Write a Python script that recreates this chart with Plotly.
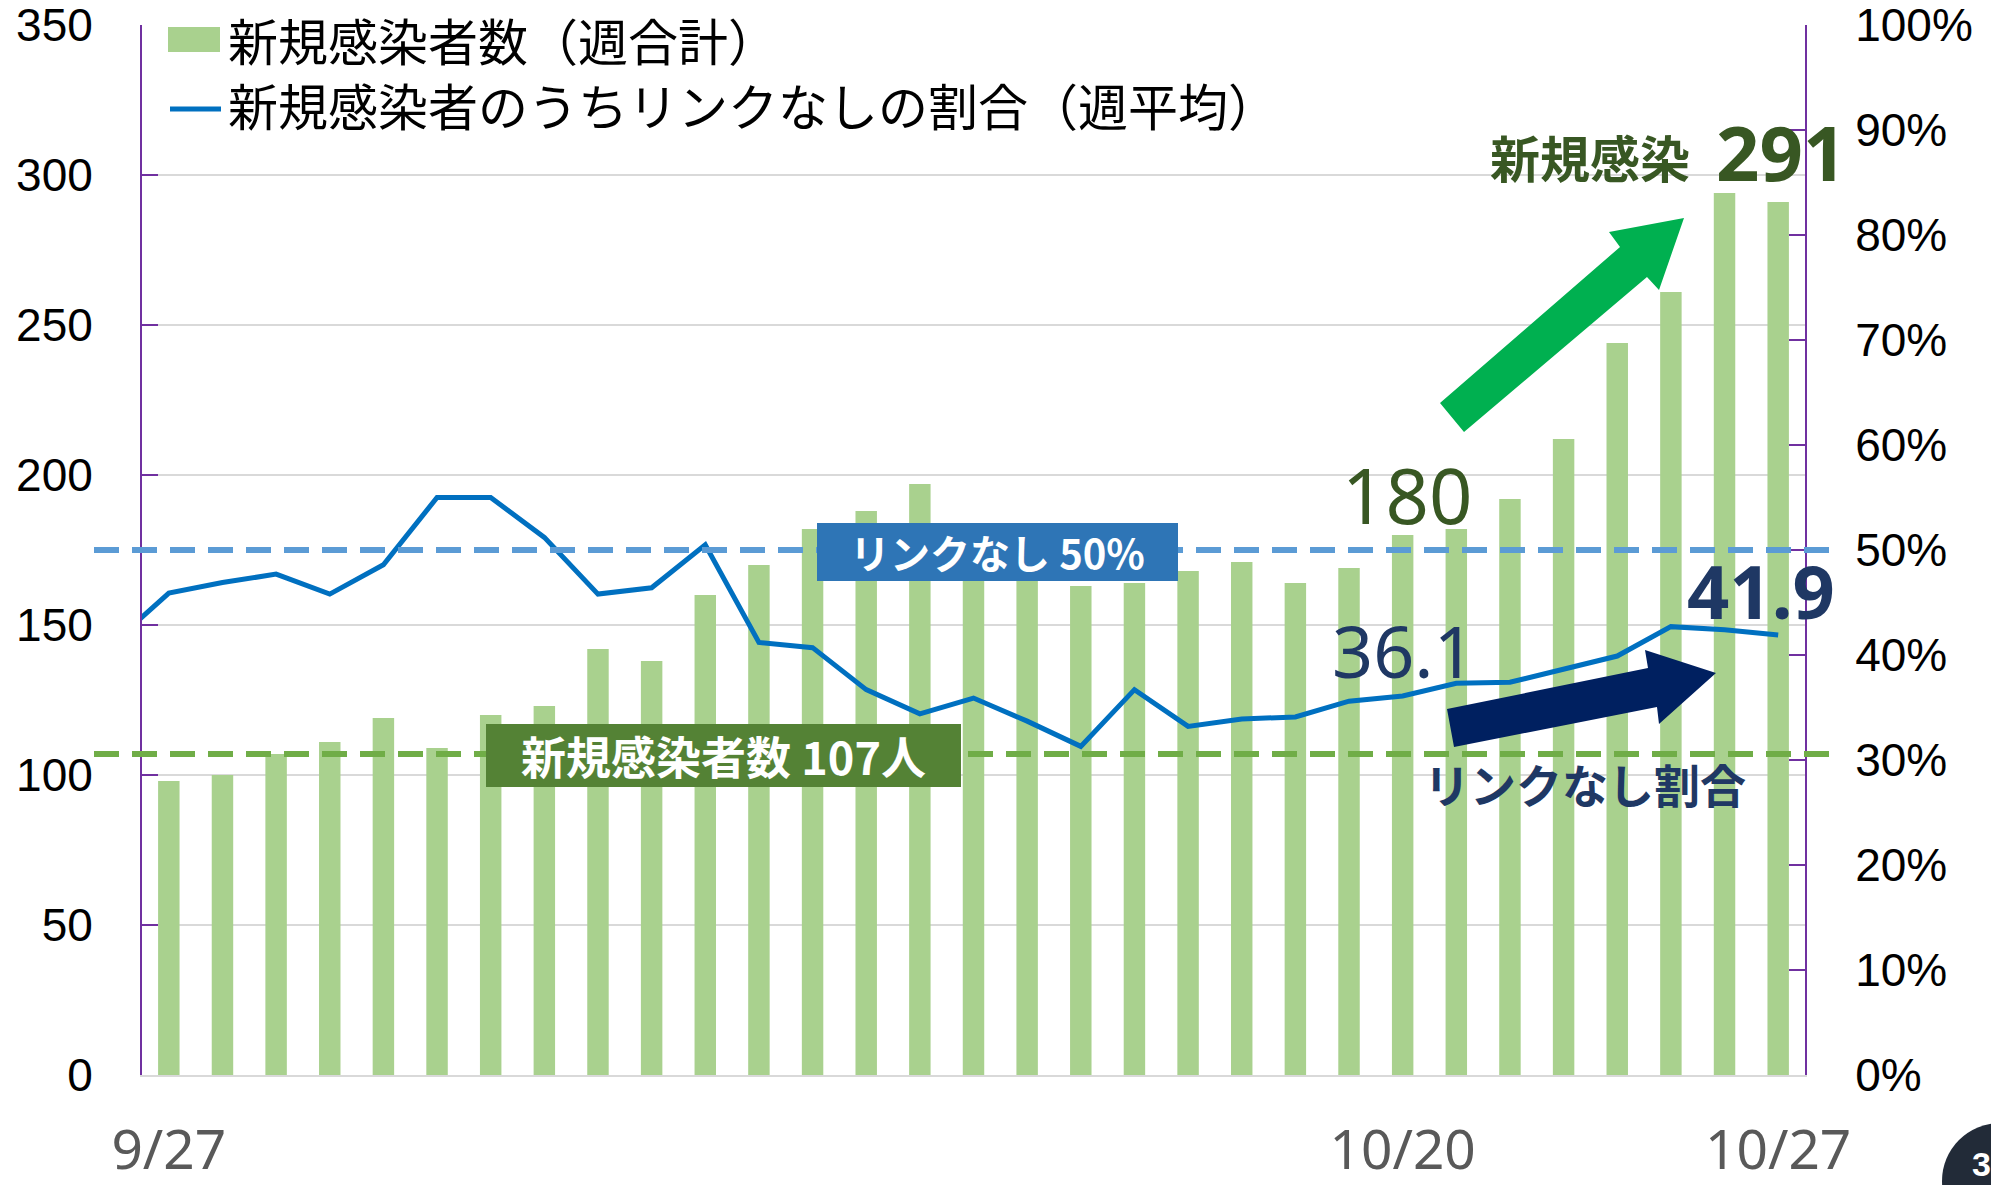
import plotly.graph_objects as go

# ---------------- data ----------------
dates = ["9/27", "9/28", "9/29", "9/30", "10/1", "10/2", "10/3", "10/4", "10/5", "10/6",
         "10/7", "10/8", "10/9", "10/10", "10/11", "10/12", "10/13", "10/14", "10/15", "10/16",
         "10/17", "10/18", "10/19", "10/20", "10/21", "10/22", "10/23", "10/24", "10/25", "10/26",
         "10/27"]
new_cases_weekly = [98, 100, 107, 111, 119, 109, 120, 123, 142, 138,
                    160, 170, 182, 188, 197, 178, 172, 163, 164, 168,
                    171, 164, 169, 180, 182, 192, 212, 244, 261, 294,
                    291]
unlinked_pct = [45.9, 46.9, 47.7, 45.8, 48.6, 55.0, 55.0, 51.2, 45.8, 46.4,
                50.5, 41.2, 40.7, 36.7, 34.4, 35.9, 33.7, 31.3, 36.7, 33.2,
                33.9, 34.1, 35.6, 36.1, 37.3, 37.4, 38.7, 39.9, 42.7, 42.4,
                41.9]
unlinked_prev_day = 41.3          # 9/26, just left of the axis
shown_ticks = ["9/27", "10/20", "10/27"]
baseline_cases = 107
baseline_pct = 50

legend_bar = "新規感染者数（週合計）"
legend_line = "新規感染者のうちリンクなしの割合（週平均）"

# ---------------- layout geometry ----------------
W, H = 1991, 1185
L, R, T, B = 142, 186, 25, 110
PW, PH = W - L - R, H - T - B


def pp(x, y):
    """pixel -> paper coordinates"""
    return (x - L) / PW, (H - B - y) / PH


def path(points):
    s = ""
    for i, (x, y) in enumerate(points):
        a, b = pp(x, y)
        s += ("M" if i == 0 else "L") + f"{a:.5f},{b:.5f} "
    return s + "Z"


idx = list(range(len(dates)))
CJK = "Noto Sans CJK JP"
NUM = "Noto Sans"
TICK = "Liberation Sans"
PURPLE = "#7030A0"
GRID = "#D9D9D9"
DKGREEN = "#385723"
NAVY = "#1F3864"

fig = go.Figure()
fig.add_trace(go.Bar(x=idx, y=new_cases_weekly, width=0.4,
                     marker=dict(color="#A9D18E", line=dict(width=0)),
                     name=legend_bar, showlegend=False))
fig.add_trace(go.Scatter(x=[-1] + idx, y=[unlinked_prev_day] + unlinked_pct,
                         mode="lines", yaxis="y2",
                         line=dict(color="#0070C0", width=5),
                         name=legend_line, showlegend=False))

shapes = []
# dashed reference lines
x0, _ = pp(94, 0)
x1, _ = pp(1832, 0)
shapes.append(dict(type="line", xref="paper", yref="y2", x0=x0, x1=x1,
                   y0=baseline_pct, y1=baseline_pct, layer="above",
                   line=dict(color="#5B9BD5", width=6, dash="25px,13px")))
shapes.append(dict(type="line", xref="paper", yref="y", x0=x0, x1=x1,
                   y0=baseline_cases, y1=baseline_cases, layer="above",
                   line=dict(color="#70AD47", width=6, dash="25px,13px")))
# green arrow
shapes.append(dict(type="path", xref="paper", yref="paper", layer="above",
                   path=path([(1440, 403), (1620, 247), (1609, 232), (1684, 218),
                              (1659, 290), (1647, 277), (1464, 432)]),
                   fillcolor="#00B050", line=dict(width=0)))
# navy arrow
shapes.append(dict(type="path", xref="paper", yref="paper", layer="above",
                   path=path([(1447, 709), (1648, 668), (1645, 650), (1716, 673),
                              (1659, 724), (1657, 707), (1454, 747)]),
                   fillcolor="#002060", line=dict(width=0)))
# custom legend
a0, b0 = pp(168, 52)
a1, b1 = pp(220, 27)
shapes.append(dict(type="rect", xref="paper", yref="paper", x0=a0, x1=a1, y0=b0, y1=b1,
                   fillcolor="#A9D18E", line=dict(width=0), layer="above"))
a0, b0 = pp(170, 109)
a1, _ = pp(221, 109)
shapes.append(dict(type="line", xref="paper", yref="paper", x0=a0, x1=a1, y0=b0, y1=b0,
                   line=dict(color="#0070C0", width=5), layer="above"))
# page-number badge (cut off at corner)
c0, d0 = pp(1942, 1239)
c1, d1 = pp(2058, 1123)
shapes.append(dict(type="circle", xref="paper", yref="paper", x0=c0, x1=c1, y0=d0, y1=d1,
                   fillcolor="#222B38", line=dict(width=0), layer="above"))

ann = []


def add_text(text, x, y, size, color, xanchor="center", bold=False, family=CJK, **kw):
    a, b = pp(x, y)
    t = f"<b>{text}</b>" if bold else text
    d = dict(text=t, xref="paper", yref="paper", x=a, y=b, xanchor=xanchor, yanchor="middle",
             showarrow=False, font=dict(size=size, color=color, family=family))
    d.update(kw)
    ann.append(d)


add_text(legend_bar + "<br>" + legend_line, 226, 71, 50, "black", xanchor="left", align="left")

# label boxes
add_text("リンクなし 50%", 997, 552, 40, "white", bold=True,
         bgcolor="#2E75B6", width=361, height=58, borderpad=0, borderwidth=0)
add_text(f"新規感染者数 {baseline_cases}人", 723, 755, 45, "white", bold=True,
         bgcolor="#548235", width=475, height=63, borderpad=0, borderwidth=0)

i20 = dates.index("10/20")
add_text(str(new_cases_weekly[i20]), 1407, 494, 76, DKGREEN, family=NUM)
add_text(f"{unlinked_pct[i20]:.1f}", 1403, 650, 72, NAVY, family=NUM)
add_text(f"{unlinked_pct[-1]:.1f}", 1761, 590, 74, NAVY, bold=True, family=NUM)
add_text("新規感染", 1692, 156, 50, DKGREEN, xanchor="right", bold=True)
add_text(str(new_cases_weekly[-1]), 1714, 152, 76, DKGREEN, xanchor="left", bold=True, family=NUM)
add_text("リンクなし割合", 1585, 783, 46, NAVY, bold=True)
add_text("3", 1970, 1164, 34, "white", xanchor="left", bold=True, family=TICK)

fig.update_layout(
    width=W, height=H, autosize=False,
    margin=dict(l=L, r=R, t=T, b=B, pad=0, autoexpand=False),
    paper_bgcolor="white", plot_bgcolor="white",
    bargap=0.6, showlegend=False,
    shapes=shapes, annotations=ann,
    xaxis=dict(range=[-0.5, len(dates) - 0.5], automargin=False,
               tickvals=[dates.index(d) for d in shown_ticks], ticktext=shown_ticks,
               showgrid=False, zeroline=False, showline=True, linecolor=GRID, linewidth=2,
               ticks="", tickfont=dict(size=55, color="#595959", family=NUM),
               ticklabelstandoff=26, ticklabeloverflow="allow"),
    yaxis=dict(range=[0, 350], dtick=50, showgrid=True, gridcolor=GRID, gridwidth=2,
               automargin=False, ticklabeloverflow="allow",
               zeroline=False, showline=True, linecolor=PURPLE, linewidth=2,
               ticks="inside", ticklen=16, tickwidth=2, tickcolor=PURPLE,
               tickfont=dict(size=46, color="black", family=TICK), ticklabelstandoff=38),
    yaxis2=dict(range=[0, 100], dtick=10, ticksuffix="%", overlaying="y", side="right",
                automargin=False, ticklabeloverflow="allow",
                showgrid=False, zeroline=False, showline=True, linecolor=PURPLE, linewidth=2,
                ticks="inside", ticklen=16, tickwidth=2, tickcolor=PURPLE,
                tickfont=dict(size=46, color="black", family=TICK), ticklabelstandoff=39),
)

fig.write_html("out.html", config={"displayModeBar": False},
               post_script="document.body.style.margin='0';document.body.style.overflow='hidden';")
